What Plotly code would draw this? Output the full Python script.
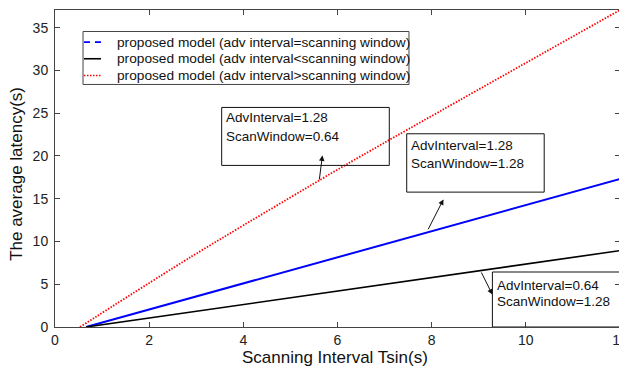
import plotly.graph_objects as go

# Data
blue_x = [0.66, 12.0]
blue_y = [0.0, 17.3]
black_x = [0.66, 12.0]
black_y = [0.0, 8.93]
red_x = [0.53, 2.87, 6.22, 12.0]
red_y = [0.0, 8.14, 19.1, 37.06]

names = [
    "proposed model (adv interval=scanning window)",
    "proposed model (adv interval<scanning window)",
    "proposed model (adv interval>scanning window)",
]

x_ticks = [0, 2, 4, 6, 8, 10, 12]
y_ticks = [0, 5, 10, 15, 20, 25, 30, 35]

FONT = "Liberation Sans, Arial, sans-serif"
TXT = "#111111"

fig = go.Figure()
fig.add_trace(go.Scatter(x=blue_x, y=blue_y, mode="lines", name=names[0],
                         line=dict(color="#0000ff", width=2), showlegend=False, hoverinfo="skip"))
fig.add_trace(go.Scatter(x=black_x, y=black_y, mode="lines", name=names[1],
                         line=dict(color="#000000", width=1.6), showlegend=False, hoverinfo="skip"))
fig.add_trace(go.Scatter(x=red_x, y=red_y, mode="lines", name=names[2],
                         line=dict(color="#ff0000", width=1.8, dash="1.5px,1.5px", shape="spline",
                                   smoothing=0.6),
                         showlegend=False, hoverinfo="skip"))

shapes = []
annotations = []

# ---- legend (drawn manually to match the compact reference legend) ----
shapes.append(dict(type="rect", xref="paper", yref="paper", x0=0.0496, x1=0.6265, y0=0.7651, y1=0.9322,
                   line=dict(color="#444444", width=1), fillcolor="white", layer="above"))
leg_rows = [0.8985, 0.8462, 0.7935]
leg_styles = [dict(color="#0000ff", width=1.8, dash="6px,5px"),
              dict(color="#000000", width=1.6),
              dict(color="#ff0000", width=1.5, dash="1.5px,1.5px")]
for ry, st, nm in zip(leg_rows, leg_styles, names):
    shapes.append(dict(type="line", xref="paper", yref="paper", x0=0.0513, x1=0.0814, y0=ry, y1=ry,
                       line=st, layer="above"))
    annotations.append(dict(x=0.1062, y=ry, xref="paper", yref="paper", text=nm, showarrow=False,
                            xanchor="left", yanchor="middle",
                            font=dict(family=FONT, size=13.7, color=TXT)))

def box(x0, x1, y0, y1):
    shapes.append(dict(type="rect", xref="x", yref="y", x0=x0, x1=x1, y0=y0, y1=y1,
                       line=dict(color="#111111", width=1), fillcolor="rgba(0,0,0,0)", layer="above"))

def text(x, y, t):
    annotations.append(dict(x=x, y=y, xref="x", yref="y", text=t, showarrow=False,
                            xanchor="left", yanchor="middle",
                            font=dict(family=FONT, size=13.5, color=TXT)))

def arrow(hx, hy, tx, ty):
    annotations.append(dict(x=hx, y=hy, xref="x", yref="y", ax=tx, ay=ty, axref="x", ayref="y",
                            text="", showarrow=True, arrowhead=2, arrowsize=1.1, arrowwidth=1,
                            arrowcolor="#111111", standoff=0, startstandoff=0))

box(3.54, 7.10, 18.89, 25.67)
text(3.58, 24.5, "AdvInterval=1.28")
text(3.58, 22.28, "ScanWindow=0.64")
arrow(5.68, 20.06, 5.61, 17.06)

box(7.47, 10.39, 15.77, 22.59)
text(7.51, 21.23, "AdvInterval=1.28")
text(7.51, 19.09, "ScanWindow=1.28")
arrow(8.25, 14.92, 7.91, 11.25)

box(9.29, 12.0, 0.0, 6.43)
text(9.34, 4.87, "AdvInterval=0.64")
text(9.34, 3.04, "ScanWindow=1.28")
arrow(9.29, 3.79, 9.04, 6.55)

# ---- axis titles ----
annotations.append(dict(x=0.4956, y=-0.0955, xref="paper", yref="paper", text="Scanning Interval Tsin(s)",
                        showarrow=False, xanchor="center", yanchor="middle",
                        font=dict(family=FONT, size=17, color=TXT)))
annotations.append(dict(x=-0.0673, y=0.483, xref="paper", yref="paper", text="The average latency(s)",
                        showarrow=False, xanchor="center", yanchor="middle", textangle=-90,
                        font=dict(family=FONT, size=17, color=TXT)))

axis_common = dict(showgrid=False, zeroline=False, showline=True, mirror="ticks",
                   linecolor="#444444", linewidth=1, ticks="inside", ticklen=5,
                   tickcolor="#444444", automargin=False,
                   tickfont=dict(family=FONT, size=14, color="#222222"))

# The page body has an 8px default margin, so the margins are offset to compensate.
fig.update_layout(
    width=627, height=374,
    margin=dict(l=47, r=15, t=1.5, b=55.3),
    plot_bgcolor="white", paper_bgcolor="white",
    font=dict(family=FONT, color=TXT),
    showlegend=False,
    xaxis=dict(range=[0, 12], tickvals=x_ticks, ticktext=[str(v) for v in x_ticks], **axis_common),
    yaxis=dict(range=[0, 37.06], tickvals=y_ticks, ticktext=[str(v) for v in y_ticks],
               ticklabelstandoff=3, **axis_common),
    shapes=shapes,
    annotations=annotations,
)

fig.write_html("out.html")
